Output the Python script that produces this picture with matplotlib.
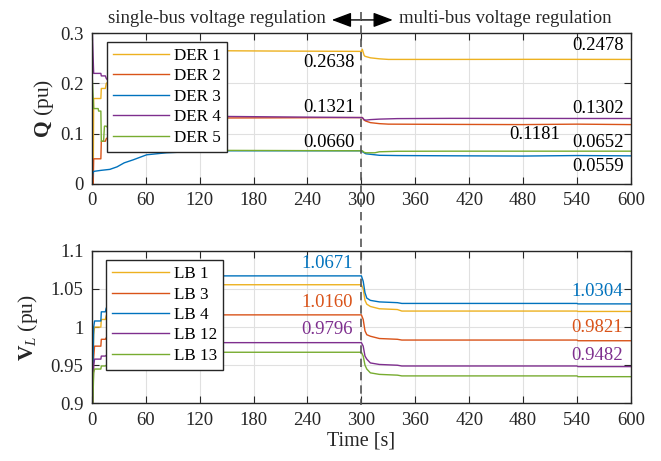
import matplotlib
matplotlib.use("Agg")
import matplotlib.pyplot as plt
import matplotlib.transforms as mtransforms
from matplotlib.lines import Line2D

plt.rcParams['font.family'] = ['Liberation Serif', 'DejaVu Serif']
plt.rcParams['mathtext.fontset'] = 'custom'
plt.rcParams['mathtext.rm'] = 'Liberation Serif'
plt.rcParams['mathtext.bf'] = 'Liberation Serif:bold'
plt.rcParams['mathtext.it'] = 'Liberation Serif:italic'

# ---------------- data: reactive power Q (pu) ----------------
der_labels = ['DER 1', 'DER 2', 'DER 3', 'DER 4', 'DER 5']

t_der1 = [0, 1.5, 2, 10, 10.5, 15, 16, 30, 60, 100, 150, 200, 300, 301, 302, 303, 304, 310, 320, 330, 400, 500, 600]
q_der1 = [0, 0.0, 0.17, 0.17, 0.19, 0.19, 0.20, 0.22, 0.245, 0.26, 0.265, 0.2645, 0.2638, 0.268, 0.262, 0.256,
          0.254, 0.251, 0.249, 0.2478, 0.2478, 0.2480, 0.2478]

t_der2 = [0, 1.5, 2, 10, 10.5, 15, 16, 30, 60, 100, 300, 301, 303, 305, 310, 320, 330, 400, 480, 540, 600]
q_der2 = [0, 0.0, 0.05, 0.05, 0.085, 0.085, 0.09, 0.11, 0.125, 0.131, 0.1321, 0.1321, 0.127, 0.125, 0.122, 0.120,
          0.119, 0.1185, 0.1181, 0.1190, 0.1181]

t_der3 = [0, 1, 2, 10, 20, 28, 36, 46, 61, 83, 120, 150, 200, 250, 300, 302, 305, 310, 320, 340, 400, 480, 540, 600]
q_der3 = [0, 0.02, 0.025, 0.027, 0.029, 0.034, 0.042, 0.048, 0.058, 0.062, 0.065, 0.066, 0.066, 0.066, 0.066,
          0.063, 0.060, 0.059, 0.057, 0.0565, 0.056, 0.0555, 0.0565, 0.0559]

t_der4 = [0, 0.5, 2, 10, 10.5, 15, 16, 30, 60, 100, 300, 301, 303, 305, 310, 320, 340, 400, 600]
q_der4 = [0.3, 0.3, 0.22, 0.22, 0.215, 0.215, 0.21, 0.18, 0.15, 0.135, 0.1321, 0.1321, 0.128, 0.127, 0.128,
          0.129, 0.130, 0.1305, 0.1302]

t_der5 = [0, 0.5, 2, 7, 7.5, 10, 10.5, 13, 14, 16, 30, 60, 100, 300, 301, 303, 305, 315, 320, 340, 400, 600]
q_der5 = [0.21, 0.21, 0.15, 0.15, 0.145, 0.145, 0.085, 0.085, 0.115, 0.115, 0.09, 0.07, 0.067, 0.066, 0.066,
          0.063, 0.062, 0.062, 0.064, 0.065, 0.0652, 0.0652]

# ---------------- data: load-bus voltages V_L (pu) ----------------
lb_labels = ['LB 1', 'LB 3', 'LB 4', 'LB 12', 'LB 13']
t_lb = [0, 2, 3, 10, 10.5, 15, 16, 30, 60, 142, 300, 302, 304, 306, 310, 320, 340, 345, 540, 541, 600]
v_lb1 = [0.85, 0.99, 1.0, 1.0, 1.01, 1.01, 1.015, 1.03, 1.045, 1.0555, 1.0555, 1.05, 1.035, 1.03, 1.027, 1.024,
         1.023, 1.021, 1.021, 1.0205, 1.0205]
v_lb3 = [0.85, 0.96, 0.975, 0.975, 0.984, 0.984, 0.986, 0.995, 1.008, 1.016, 1.016, 1.01, 0.995, 0.99, 0.988,
         0.985, 0.984, 0.983, 0.983, 0.9821, 0.9821]
v_lb4 = [0.85, 1.0, 1.008, 1.008, 1.02, 1.02, 1.025, 1.04, 1.055, 1.0671, 1.0671, 1.06, 1.045, 1.038, 1.035,
         1.033, 1.032, 1.031, 1.031, 1.0304, 1.0304]
v_lb12 = [0.85, 0.95, 0.958, 0.958, 0.962, 0.962, 0.963, 0.968, 0.975, 0.9796, 0.9796, 0.975, 0.962, 0.958,
          0.953, 0.951, 0.950, 0.949, 0.949, 0.9482, 0.9482]
v_lb13 = [0.85, 0.94, 0.945, 0.945, 0.949, 0.949, 0.95, 0.955, 0.962, 0.967, 0.967, 0.962, 0.95, 0.945, 0.94,
          0.938, 0.937, 0.936, 0.936, 0.935, 0.935]

x_ticks = [0, 60, 120, 180, 240, 300, 360, 420, 480, 540, 600]
q_ticks = [0, 0.1, 0.2, 0.3]
v_ticks = [0.9, 0.95, 1.0, 1.05, 1.1]
v_tick_labels = ['0.9', '0.95', '1', '1.05', '1.1']

q_notes = [('0.2638', 264, 0.2425), ('0.1321', 264, 0.153), ('0.0660', 264, 0.0815),
           ('0.2478', 563, 0.276), ('0.1302', 563, 0.151), ('0.1181', 493, 0.0974),
           ('0.0652', 563, 0.0815), ('0.0559', 563, 0.0338)]
v_notes = [('1.0671', 262, 1.0839, 'blue'), ('1.0160', 262, 1.0319, 'orange'), ('0.9796', 262, 0.997, 'purple'),
           ('1.0304', 562, 1.0463, 'blue'), ('0.9821', 562, 0.999, 'orange'), ('0.9482', 562, 0.9633, 'purple')]

C = {'blue': '#0072BD', 'orange': '#D95319', 'yellow': '#EDB120', 'purple': '#7E2F8E', 'green': '#77AC30'}
dark = '#262626'

fig = plt.figure(figsize=(6.61, 4.61), dpi=100)
ax1 = fig.add_axes([0.139, 0.601, 0.8155, 0.327])
ax2 = fig.add_axes([0.139, 0.125, 0.8155, 0.331])

def style(ax):
    ax.set_xlim(0, 600)
    ax.set_xticks(x_ticks)
    ax.grid(True, color='#e0e0e0', lw=0.8)
    ax.set_axisbelow(True)
    ax.tick_params(direction='in', top=True, right=True, length=5, width=0.8,
                   labelsize=13.5, colors=dark, pad=6)
    for s in ax.spines.values():
        s.set_color(dark)
        s.set_linewidth(1.0)

legend_kw = dict(loc='upper left', fontsize=12.3, handlelength=3.3, handletextpad=0.3,
                 labelspacing=0.26, borderpad=0.35, borderaxespad=0,
                 fancybox=False, framealpha=1, edgecolor=dark)

# top plot
q_series = [(t_der1, q_der1, 'yellow'), (t_der2, q_der2, 'orange'), (t_der3, q_der3, 'blue'),
            (t_der4, q_der4, 'purple'), (t_der5, q_der5, 'green')]
for (t, q, c), lab in zip(q_series, der_labels):
    ax1.plot(t, q, color=C[c], lw=1.0, label=lab)
ax1.set_ylim(0, 0.3)
ax1.set_yticks(q_ticks)
ax1.set_yticklabels(['0', '0.1', '0.2', '0.3'])
style(ax1)
ax1.set_ylabel(r'$\mathbf{Q}$ (pu)', fontsize=15.5, color=dark)
ax1.yaxis.set_label_coords(-0.067, 0.5)
for txt, x, y in q_notes:
    ax1.text(x, y, txt, ha='center', va='center', fontsize=13.5, color='black')
leg1 = ax1.legend(bbox_to_anchor=(0.028, 0.942), **legend_kw)
leg1.get_frame().set_linewidth(1.0)

# bottom plot
v_series = [(v_lb1, 'yellow'), (v_lb3, 'orange'), (v_lb4, 'blue'), (v_lb12, 'purple'), (v_lb13, 'green')]
for (v, c), lab in zip(v_series, lb_labels):
    ax2.plot(t_lb, v, color=C[c], lw=1.0, label=lab)
ax2.set_ylim(0.9, 1.1)
ax2.set_yticks(v_ticks)
ax2.set_yticklabels(v_tick_labels)
style(ax2)
ax2.set_ylabel(r'$\mathbf{V}_{L}$ (pu)', fontsize=15.5, color=dark)
ax2.yaxis.set_label_coords(-0.097, 0.5)
ax2.set_xlabel('Time [s]', fontsize=14.5, color=dark, labelpad=2)
for txt, x, y, c in v_notes:
    ax2.text(x, y, txt, ha='center', va='center', fontsize=13.5, color=C[c])
leg2 = ax2.legend(bbox_to_anchor=(0.027, 0.939), **legend_kw)
leg2.get_frame().set_linewidth(1.0)

# dashed divider at t = 300 spanning both plots
blend = mtransforms.blended_transform_factory(ax1.transData, fig.transFigure)
fig.add_artist(Line2D([300, 300], [1 - 12 / 461, 1 - 405 / 461], transform=blend,
                      color='#555555', lw=1.2, ls=(0, (5, 3))))

# arrows and region labels
y_arr = 1.088
ap = dict(arrowstyle='-|>,head_length=0.8,head_width=0.3', color='black', lw=1.0,
          mutation_scale=15, shrinkA=0, shrinkB=0)
ax1.annotate('', xy=(267, y_arr), xytext=(300, y_arr), xycoords=('data', 'axes fraction'),
             textcoords=('data', 'axes fraction'), arrowprops=ap, annotation_clip=False)
ax1.annotate('', xy=(335, y_arr), xytext=(300, y_arr), xycoords=('data', 'axes fraction'),
             textcoords=('data', 'axes fraction'), arrowprops=ap, annotation_clip=False)
ax1.text(260.5, 1.10, 'single-bus voltage regulation', transform=ax1.get_xaxis_transform(),
         ha='right', va='center', fontsize=13.5, color=dark)
ax1.text(341.5, 1.10, 'multi-bus voltage regulation', transform=ax1.get_xaxis_transform(),
         ha='left', va='center', fontsize=13.5, color=dark)

fig.savefig('out.png', dpi=100)
